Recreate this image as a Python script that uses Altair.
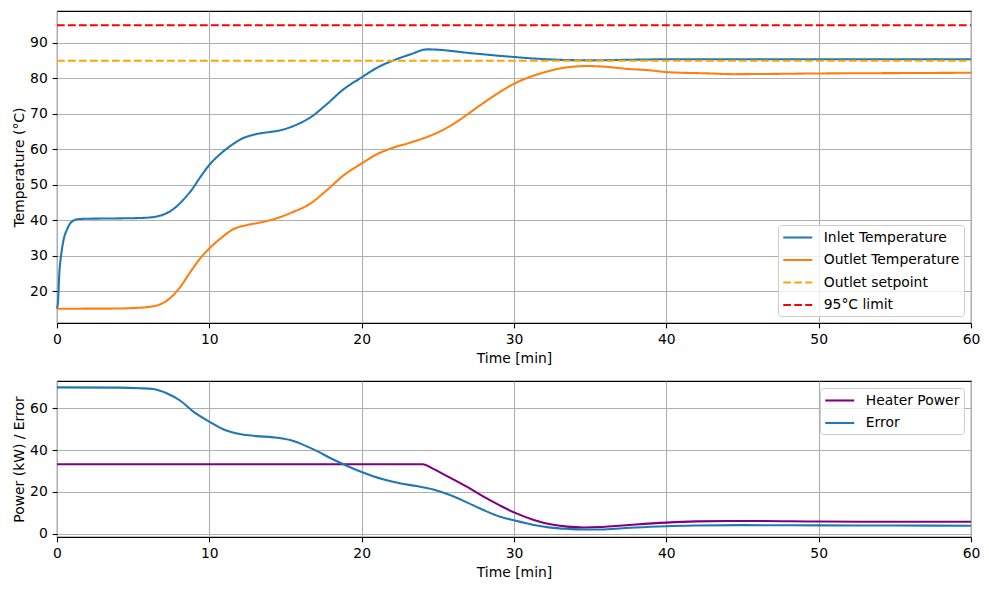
import altair as alt
import pandas as pd

# ---- temperature traces (time in minutes, °C) ----
inlet_t = [0, 0.07, 0.15, 0.28, 0.44, 0.66, 0.98, 1.42, 2, 3, 4.1, 5.4, 6.3, 7.0, 7.6, 8.3,
           8.8, 9.4, 10, 10.7, 11.4, 12.2, 13.1, 14.0, 14.6, 15.7, 16.6, 17.7, 18.8, 20, 21,
           22.1, 23.2, 24.3, 25, 26, 27, 28, 29, 30, 31, 32, 33, 34, 35, 36, 38, 40, 45, 50,
           55, 60]
inlet_v = [15, 17.2, 24.7, 30.4, 34.6, 37.4, 39.6, 40.3, 40.4, 40.45, 40.5, 40.6, 40.85, 41.6,
           43.0, 45.8, 48.3, 52.1, 55.6, 58.6, 61.0, 63.1, 64.3, 64.9, 65.3, 66.9, 68.9, 72.7,
           76.9, 80.3, 83.0, 85.1, 86.8, 88.2, 88.1, 87.7, 87.2, 86.8, 86.4, 86.05, 85.7, 85.45,
           85.25, 85.15, 85.1, 85.15, 85.3, 85.4, 85.4, 85.4, 85.4, 85.4]

outlet_t = [0, 2, 4.1, 5.0, 5.9, 6.8, 7.4, 8.1, 8.7, 9.4, 10, 10.7, 11.6, 12.45, 13.3, 14,
            15.5, 16.6, 17.7, 18.8, 20, 21, 22.1, 23.2, 24.3, 25.4, 26.5, 27.6, 28.65, 29.7,
            30.5, 31.3, 32.4, 33.0, 34, 34.8, 36, 37.4, 38.9, 40, 42.9, 44.4, 46.2, 50, 55, 60]
outlet_v = [15, 15.02, 15.05, 15.2, 15.45, 16.3, 17.9, 21.2, 25.0, 29.2, 32.0, 34.7, 37.5, 38.6,
            39.3, 40.0, 42.3, 44.6, 48.4, 52.6, 56.0, 58.6, 60.5, 61.9, 63.5, 65.6, 68.5, 71.9,
            75.0, 77.8, 79.5, 80.8, 82.2, 82.8, 83.35, 83.5, 83.3, 82.7, 82.3, 81.8, 81.4, 81.2,
            81.25, 81.4, 81.5, 81.6]

setpoint_v = 85
limit_v = 95
span_t = [0, 60]

# ---- heater power (kW) and control error ----
power_t = [0, 5, 10, 15, 20, 24, 24.7, 25.8, 26.9, 28, 29.1, 30, 31.3, 32.4, 33.5, 34.6,
           35.65, 36.7, 38, 40, 42, 44, 46, 50, 55, 60]
power_v = [33.2, 33.2, 33.2, 33.2, 33.2, 33.2, 31.0, 26.8, 22.5, 17.7, 13.4, 10.2, 6.6, 4.5,
           3.4, 3.0, 3.2, 3.7, 4.4, 5.3, 5.9, 6.1, 6.1, 5.8, 5.7, 5.7]

error_t = [0, 4, 5.45, 6.3, 7.2, 8.1, 8.95, 10, 10.9, 12, 13.1, 14.2, 15.3, 16.4, 17.05, 18.1,
           19.2, 20, 21.4, 22.5, 23.6, 24.7, 25.8, 26.9, 28, 29.1, 30, 31.3, 32.4, 33.5, 34.6,
           35.5, 36.7, 38, 40, 42, 45, 50, 55, 60]
error_v = [70.0, 69.9, 69.6, 69.2, 67.2, 63.6, 58.4, 53.6, 50.0, 47.7, 46.7, 46.1, 44.8, 41.8,
           39.6, 35.6, 31.9, 29.5, 26.0, 24.1, 22.8, 21.2, 18.5, 15.0, 11.3, 8.1, 6.4, 4.2, 2.9,
           2.3, 2.0, 2.0, 2.4, 3.0, 3.6, 3.9, 4.1, 4.0, 3.9, 3.8]

x_ticks = [0, 10, 20, 30, 40, 50, 60]
temp_ticks = [20, 30, 40, 50, 60, 70, 80, 90]
power_ticks = [0, 20, 40, 60]

temp_names = ["Inlet Temperature", "Outlet Temperature", "Outlet setpoint", "95°C limit"]
temp_colors = ["#1f77b4", "#ff7f0e", "#ffa500", "#ff0000"]
power_names = ["Heater Power", "Error"]
power_colors = ["#800080", "#1f77b4"]

LW = 2.08          # 1.5 pt line at 100 dpi
SOLID = [1, 0]
DASH = [7.7, 3.3]
FONT = "DejaVu Sans"
FS = 13.9


def frame(ts, vs, name):
    return pd.DataFrame({"t": ts, "v": vs, "series": name})


temp_df = pd.concat([
    frame(inlet_t, inlet_v, temp_names[0]),
    frame(outlet_t, outlet_v, temp_names[1]),
    frame(span_t, [setpoint_v] * 2, temp_names[2]),
    frame(span_t, [limit_v] * 2, temp_names[3]),
], ignore_index=True)

power_df = pd.concat([
    frame(power_t, power_v, power_names[0]),
    frame(error_t, error_v, power_names[1]),
], ignore_index=True)

x_enc = alt.X("t:Q", scale=alt.Scale(domain=[0, 60], nice=False, zero=False),
              axis=alt.Axis(values=x_ticks, title="Time [min]", labelFlush=False,
                            titlePadding=5.3))


def legend(orient):
    return alt.Legend(orient=orient, title=None)


top = alt.Chart(temp_df).mark_line(strokeWidth=LW, interpolate="monotone").encode(
    x=x_enc,
    y=alt.Y("v:Q", scale=alt.Scale(domain=[10.97, 99.03], nice=False, zero=False),
            axis=alt.Axis(values=temp_ticks, title="Temperature (°C)")),
    color=alt.Color("series:N", scale=alt.Scale(domain=temp_names, range=temp_colors),
                    legend=legend("bottom-right")),
    strokeDash=alt.StrokeDash("series:N",
                              scale=alt.Scale(domain=temp_names, range=[SOLID, SOLID, DASH, DASH]),
                              legend=legend("bottom-right")),
).properties(width=914, height=312)

bottom = alt.Chart(power_df).mark_line(strokeWidth=LW, interpolate="monotone").encode(
    x=x_enc,
    y=alt.Y("v:Q", scale=alt.Scale(domain=[-1.58, 73.06], nice=False, zero=False),
            axis=alt.Axis(values=power_ticks, title="Power (kW) / Error")),
    color=alt.Color("series:N", scale=alt.Scale(domain=power_names, range=power_colors),
                    legend=legend("top-right")),
).properties(width=914, height=156)

chart = alt.vconcat(top, bottom, spacing=13).resolve_scale(
    color="independent", strokeDash="independent"
).resolve_legend(color="independent", strokeDash="independent").properties(
    padding={"left": 11, "top": 10, "right": 5, "bottom": 5},
    background="white",
).configure_view(
    stroke="black", strokeWidth=1.1
).configure_axis(
    domain=False,
    grid=True,
    gridColor="#b0b0b0",
    gridWidth=1.1,
    tickColor="black",
    tickSize=4.86,
    tickWidth=1.1,
    labelPadding=4.86,
    labelFont=FONT,
    labelFontSize=FS,
    labelColor="black",
    titleFont=FONT,
    titleFontSize=FS,
    titleFontWeight="normal",
    titleColor="black",
    titlePadding=3.3,
).configure_legend(
    labelFont=FONT,
    labelFontSize=FS,
    labelColor="black",
    fillColor="rgba(255,255,255,0.8)",
    strokeColor="#cccccc",
    cornerRadius=3,
    padding=4,
    offset=7,
    symbolType="M-2,0H2",
    symbolSize=210,
    symbolOffset=7.25,
    symbolStrokeWidth=LW,
    labelOffset=17.5,
    rowPadding=6.5,
)

chart.save("out.html", embed_options={"renderer": "svg", "actions": False})
